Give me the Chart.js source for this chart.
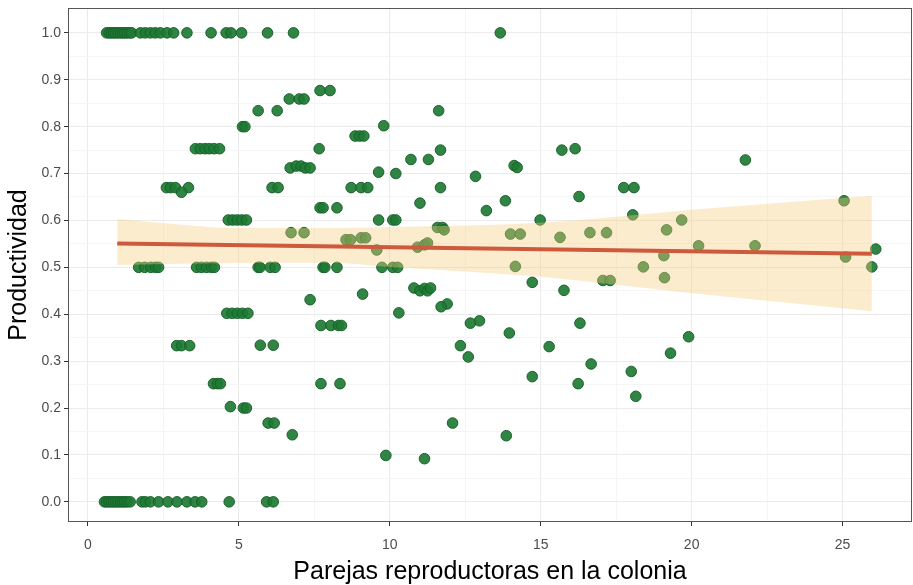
<!DOCTYPE html>
<html>
<head>
<meta charset="utf-8">
<script src="https://cdn.jsdelivr.net/npm/chart.js@4/dist/chart.umd.min.js"></script>
<style>
  html, body { margin: 0; padding: 0; background: #ffffff; }
  #wrap { width: 913px; height: 585px; }
</style>
</head>
<body>
<div id="wrap"><canvas id="c" width="913" height="585"></canvas></div>
<script>
// Breeding pairs in the colony (x) and productivity (y), one entry per colony-year
const pairsX = [
  // productivity 1.0
  0.62, 0.70, 0.78, 0.85, 0.92, 1.00, 1.08, 1.15, 1.22, 1.30, 1.38, 1.45,
  1.74, 1.90, 2.07, 2.23, 2.40, 2.62, 2.84, 3.28, 4.08, 4.58, 4.74, 5.09, 5.95, 6.81, 13.66,
  // productivity 0.0
  0.55, 0.62, 0.70, 0.78, 0.85, 0.92, 1.00, 1.08, 1.15, 1.22, 1.30, 1.40,
  1.79, 1.90, 2.07, 2.34, 2.65, 2.95, 3.28, 3.55, 3.77, 4.68, 5.92, 6.14,
  // intermediate productivity
  7.69, 8.02,
  6.67, 7.00, 7.16,
  5.64, 6.27, 11.62,
  5.12, 5.20,
  8.85, 9.00, 9.14,
  9.80,
  3.56, 3.72, 3.88, 4.02, 4.18, 4.36, 7.66, 11.68, 15.70, 16.14,
  6.70, 6.90, 7.06, 7.20, 7.36,
  10.70, 11.28, 21.78, 14.12, 14.22,
  9.63, 10.20, 12.84,
  2.60, 2.74, 2.90, 3.33, 3.10, 6.10, 6.30, 8.72, 9.05, 9.27, 11.68, 17.75, 18.09,
  16.27, 13.83, 25.05, 11.00,
  7.69, 7.79, 8.25, 13.20, 18.05,
  4.65, 4.80, 4.95, 5.10, 5.25, 9.63, 10.10, 10.20, 14.98, 19.67,
  11.58, 11.75, 11.80, 19.17,
  6.73, 7.16, 16.63, 17.18,
  14.00, 14.32, 15.64,
  8.55, 8.70, 9.05, 9.20,
  20.23, 22.10, 10.92, 11.15, 11.25, 26.10, 9.57,
  19.08, 25.10,
  1.68, 1.88, 2.08, 2.24, 2.34, 3.60, 3.76, 3.93, 4.09, 4.19,
  5.64, 5.70, 6.04, 6.20, 7.79, 7.85, 8.25, 9.74, 10.10, 10.26,
  14.16, 18.40, 25.97,
  19.10, 17.06, 17.30, 14.72,
  10.80, 11.00, 11.15, 11.25, 11.35, 15.77,
  9.10, 7.36, 11.90, 11.70, 10.30,
  4.60, 4.78, 4.95, 5.12, 5.30,
  12.97, 12.67, 16.30,
  7.72, 8.05, 8.30, 8.40,
  13.96, 19.90,
  2.94, 3.10, 3.37, 5.71, 6.14, 12.34,
  15.28, 19.30, 12.60, 16.67, 18.00, 14.72,
  4.16, 4.29, 4.39, 7.72, 8.35, 16.24,
  18.15, 4.72, 5.15, 5.25,
  5.97, 6.17, 12.08,
  6.77, 13.86, 9.87, 11.15
];

const productivityY = [
  1, 1, 1, 1, 1, 1, 1, 1, 1, 1, 1, 1,
  1, 1, 1, 1, 1, 1, 1, 1, 1, 1, 1, 1, 1, 1, 1,
  0, 0, 0, 0, 0, 0, 0, 0, 0, 0, 0, 0,
  0, 0, 0, 0, 0, 0, 0, 0, 0, 0, 0, 0,
  0.877, 0.877,
  0.859, 0.859, 0.859,
  0.834, 0.834, 0.834,
  0.800, 0.800,
  0.780, 0.780, 0.780,
  0.802,
  0.753, 0.753, 0.753, 0.753, 0.753, 0.753, 0.753, 0.750, 0.750, 0.753,
  0.712, 0.716, 0.716, 0.712, 0.712,
  0.730, 0.730, 0.729, 0.717, 0.713,
  0.703, 0.700, 0.694,
  0.670, 0.670, 0.670, 0.670, 0.660, 0.670, 0.670, 0.670, 0.670, 0.670, 0.670, 0.670, 0.670,
  0.651, 0.642, 0.642, 0.637,
  0.627, 0.627, 0.627, 0.621, 0.612,
  0.601, 0.601, 0.601, 0.601, 0.601, 0.601, 0.601, 0.601, 0.601, 0.601,
  0.585, 0.585, 0.580, 0.580,
  0.574, 0.574, 0.574, 0.574,
  0.571, 0.571, 0.564,
  0.559, 0.559, 0.563, 0.563,
  0.546, 0.546, 0.543, 0.548, 0.552, 0.539, 0.537,
  0.525, 0.522,
  0.500, 0.500, 0.500, 0.500, 0.500, 0.500, 0.500, 0.500, 0.500, 0.500,
  0.500, 0.500, 0.500, 0.500, 0.500, 0.500, 0.500, 0.500, 0.500, 0.500,
  0.502, 0.501, 0.501,
  0.478, 0.472, 0.472, 0.468,
  0.456, 0.450, 0.455, 0.450, 0.456, 0.451,
  0.443, 0.431, 0.422, 0.416, 0.403,
  0.402, 0.402, 0.402, 0.402, 0.402,
  0.386, 0.381, 0.381,
  0.376, 0.376, 0.376, 0.376,
  0.360, 0.352,
  0.333, 0.333, 0.333, 0.334, 0.334, 0.333,
  0.331, 0.317, 0.309, 0.294, 0.278, 0.267,
  0.252, 0.252, 0.252, 0.252, 0.252, 0.252,
  0.225, 0.203, 0.200, 0.200,
  0.168, 0.168, 0.168,
  0.143, 0.141, 0.099, 0.092
];

// Fitted linear trend and its confidence band
const fitX = [0.97, 25.97];
const fitY = [0.551, 0.529];
const bandX = [0.97, 5, 8, 10, 15, 20, 25, 25.97];
const bandUpper = [0.603, 0.584, 0.584, 0.586, 0.595, 0.623, 0.648, 0.652];
const bandLower = [0.505, 0.509, 0.510, 0.501, 0.480, 0.445, 0.413, 0.406];

// Axis tick positions (major + minor grid) and labelled values
const xGridValues = [0, 2.5, 5, 7.5, 10, 12.5, 15, 17.5, 20, 22.5, 25];
const xTickLabels = [0, 5, 10, 15, 20, 25];
const yGridValues = [0, 0.05, 0.1, 0.15, 0.2, 0.25, 0.3, 0.35, 0.4, 0.45, 0.5,
                     0.55, 0.6, 0.65, 0.7, 0.75, 0.8, 0.85, 0.9, 0.95, 1.0];
const yTickLabels = [0, 0.1, 0.2, 0.3, 0.4, 0.5, 0.6, 0.7, 0.8, 0.9, 1.0];

const xTitle = 'Parejas reproductoras en la colonia';
const yTitle = 'Productividad';

const FONT = "'Liberation Sans', Arial, sans-serif";

const pts = pairsX.map((x, i) => ({ x: x, y: productivityY[i] }));
const fitPts = fitX.map((x, i) => ({ x: x, y: fitY[i] }));
const upperPts = bandX.map((x, i) => ({ x: x, y: bandUpper[i] }));
const lowerPts = bandX.map((x, i) => ({ x: x, y: bandLower[i] }));

const isLabelled = (list, v) => list.some(t => Math.abs(t - v) < 1e-9);

// Outline of the plotting panel
const panelBorder = {
  id: 'panelBorder',
  afterDraw(chart) {
    const a = chart.chartArea, ctx = chart.ctx;
    ctx.save();
    ctx.strokeStyle = '#555555';
    ctx.lineWidth = 1;
    ctx.strokeRect(a.left + 0.5, a.top + 0.5, a.right - a.left - 1, a.bottom - a.top - 1);
    ctx.restore();
  }
};

function axisConfig(min, max, grid, labels, fmt, title, side) {
  return {
    type: 'linear',
    min: min,
    max: max,
    afterBuildTicks: s => { s.ticks = grid.map(v => ({ value: v })); },
    afterFit: s => {
      if (side === 'x') {
        s.height = 63;
        s.paddingLeft = 0;
        s.paddingRight = 0;
      } else {
        s.width = 68;
        s.paddingTop = 0;
        s.paddingBottom = 0;
      }
    },
    border: { display: false },
    grid: {
      color: c => (c.tick && isLabelled(labels, c.tick.value)) ? '#ebebeb' : '#f5f5f5',
      tickColor: c => (c.tick && isLabelled(labels, c.tick.value)) ? '#333333' : 'rgba(0,0,0,0)',
      tickLength: 4,
      lineWidth: 1
    },
    ticks: {
      autoSkip: false,
      maxRotation: 0,
      color: '#4d4d4d',
      font: { family: FONT, size: 14 },
      padding: side === 'x' ? 11 : 3,
      callback: v => isLabelled(labels, v) ? fmt(v) : ''
    },
    title: {
      display: true,
      text: title,
      color: '#000000',
      font: { family: FONT, size: 25, lineHeight: 1.0 },
      padding: side === 'x' ? { top: 0, bottom: 0 } : { top: 7, bottom: 0 }
    }
  };
}

new Chart(document.getElementById('c'), {
  type: 'scatter',
  data: {
    datasets: [
      {
        type: 'line',
        data: fitPts,
        borderColor: '#cd5a3c',
        borderWidth: 4,
        pointRadius: 0,
        fill: false,
        order: 0
      },
      {
        type: 'line',
        data: upperPts,
        borderWidth: 0,
        borderColor: 'rgba(0,0,0,0)',
        pointRadius: 0,
        cubicInterpolationMode: 'monotone',
        backgroundColor: 'rgba(248,205,125,0.38)',
        fill: '+1',
        order: 1
      },
      {
        type: 'line',
        data: lowerPts,
        borderWidth: 0,
        borderColor: 'rgba(0,0,0,0)',
        pointRadius: 0,
        cubicInterpolationMode: 'monotone',
        fill: false,
        order: 1
      },
      {
        data: pts,
        pointRadius: 5.3,
        backgroundColor: 'rgba(30,122,52,0.92)',
        borderColor: 'rgba(22,96,40,0.95)',
        borderWidth: 1,
        order: 2
      }
    ]
  },
  options: {
    responsive: false,
    animation: false,
    layout: { autoPadding: false, padding: { top: 8, right: 1, left: 0, bottom: 0 } },
    plugins: { legend: { display: false }, tooltip: { enabled: false } },
    scales: {
      x: axisConfig(-0.66, 27.3, xGridValues, xTickLabels, v => String(v), xTitle, 'x'),
      y: axisConfig(-0.043, 1.053, yGridValues, yTickLabels, v => v.toFixed(1), yTitle, 'y')
    }
  },
  plugins: [panelBorder]
});
</script>
</body>
</html>
